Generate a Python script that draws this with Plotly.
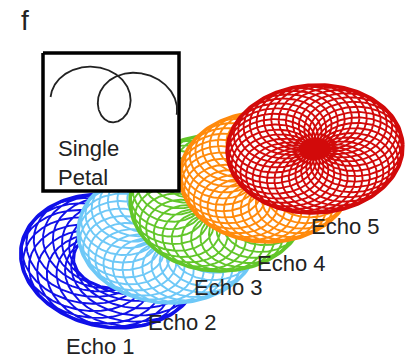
import numpy as np
import plotly.graph_objects as go

W, H = 413, 363

# ---- data ----
echo_labels = ["Echo 1", "Echo 2", "Echo 3", "Echo 4", "Echo 5"]
echo_colors = ["#1010e8", "#6ec8f7", "#62c62a", "#ff8a0c", "#d20a0a"]
echo_cx = [110, 168, 218, 266, 315]
echo_cy = [261, 235, 203, 177, 149]
echo_ax = [90, 90, 88, 86, 88]
echo_ay = [66, 68, 68, 65, 64]
echo_tilt = [10, 4, 3, 2, -3]
echo_path_ratio = [0.3, 0.55, 0.58, 0.55, 0.5]
echo_loop_freq = [8.5, 15.5, 16.5, 17.5, 18.5]
echo_turns = [2, 2, 2, 2, 2]
label_x = [100, 182, 228, 291, 345]
label_y = [346, 322, 287, 263, 226]

petal_params = dict(c=7.5, b=3.6, bend=192, tilt=8, x0=114, y0=103)
box_x = [43, 179]
box_y = [53, 191]

fig = go.Figure()


def place(u, v, i):
    th = np.deg2rad(echo_tilt[i])
    ex = echo_ax[i] * u
    ey = echo_ay[i] * v
    X = echo_cx[i] + ex * np.cos(th) - ey * np.sin(th)
    Y = echo_cy[i] + ex * np.sin(th) + ey * np.cos(th)
    return X, Y


for i in range(len(echo_labels)):
    # white backing disc (occludes echoes underneath)
    s = np.linspace(0, 2 * np.pi, 200)
    X, Y = place(np.cos(s), np.sin(s), i)
    fig.add_trace(go.Scatter(x=X, y=Y, mode="lines", fill="toself",
                             fillcolor="white",
                             line=dict(color=echo_colors[i], width=3.5),
                             hoverinfo="skip", showlegend=False))
    r0 = echo_path_ratio[i]
    r1 = 1 - r0
    k = echo_loop_freq[i]
    t = np.linspace(0, 2 * np.pi * echo_turns[i], 6000)
    u = r0 * np.cos(t) + r1 * np.cos(k * t)
    v = r0 * np.sin(t) + r1 * np.sin(k * t)
    X, Y = place(u, v, i)
    fig.add_trace(go.Scatter(x=X, y=Y, mode="lines",
                             line=dict(color=echo_colors[i], width=1.9),
                             hoverinfo="skip", showlegend=False))

# inset box
fig.add_trace(go.Scatter(x=[box_x[0], box_x[1], box_x[1], box_x[0], box_x[0]],
                         y=[box_y[0], box_y[0], box_y[1], box_y[1], box_y[0]],
                         mode="lines", fill="toself", fillcolor="white",
                         line=dict(color="black", width=3.5),
                         hoverinfo="skip", showlegend=False))

# single petal curve (prolate cycloid wrapped on an arc)
p = petal_params
t = np.linspace(-1.5 * np.pi, 1.5 * np.pi, 600)
Xc = p["c"] * (t - p["b"] * np.sin(t))
Yc = p["c"] * (1 - p["b"] * np.cos(t))
phi = Xc / p["bend"]
rho = p["bend"] + Yc
px = rho * np.sin(phi)
py = rho * np.cos(phi) - p["bend"]
th = np.deg2rad(p["tilt"])
qx = px * np.cos(th) + py * np.sin(th)
qy = -px * np.sin(th) + py * np.cos(th)
fig.add_trace(go.Scatter(x=p["x0"] + qx, y=p["y0"] - qy, mode="lines",
                         line=dict(color="#222222", width=1.8),
                         hoverinfo="skip", showlegend=False))

font = "Liberation Sans, Arial, sans-serif"
ann = [dict(x=label_x[i], y=label_y[i], text=echo_labels[i], showarrow=False,
            xanchor="center", yanchor="middle",
            font=dict(family=font, size=22, color="#222222"))
       for i in range(len(echo_labels))]
ann.append(dict(x=56, y=163, text="Single<br>Petal", showarrow=False,
                xanchor="left", yanchor="middle", align="left",
                font=dict(family=font, size=22, color="#222222")))
ann.append(dict(x=25, y=20, text="f", showarrow=False,
                xanchor="center", yanchor="middle",
                font=dict(family=font, size=28, color="#222222")))

fig.update_layout(
    width=W, height=H, autosize=False,
    margin=dict(l=0, r=0, t=0, b=0),
    paper_bgcolor="white", plot_bgcolor="white",
    xaxis=dict(range=[0, W], visible=False, fixedrange=True),
    yaxis=dict(range=[H, 0], visible=False, fixedrange=True),
    annotations=ann,
)

fig.write_html("out.html", config={"displayModeBar": False})
